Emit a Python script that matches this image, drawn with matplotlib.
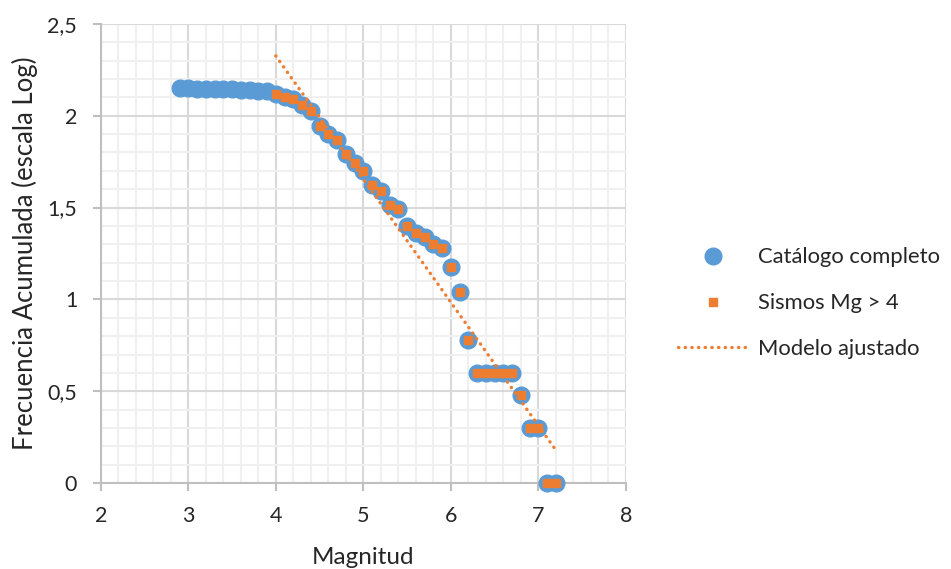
import matplotlib
matplotlib.use("Agg")
import matplotlib.pyplot as plt
from matplotlib.lines import Line2D
from matplotlib.ticker import MultipleLocator, FuncFormatter

plt.rcParams["font.family"] = ["Lato", "DejaVu Sans"]

# cumulative frequency (log10) per magnitude bin
mag = [2.9, 3.0, 3.1, 3.2, 3.3, 3.4, 3.5, 3.6, 3.7, 3.8, 3.9,
       4.0, 4.1, 4.2, 4.3, 4.4, 4.5, 4.6, 4.7, 4.8, 4.9,
       5.0, 5.1, 5.2, 5.3, 5.4, 5.5, 5.6, 5.7, 5.8, 5.9,
       6.0, 6.1, 6.2, 6.3, 6.4, 6.5, 6.6, 6.7, 6.8, 6.9,
       7.0, 7.1, 7.2]
logn = [2.149, 2.149, 2.146, 2.146, 2.146, 2.143, 2.143, 2.140, 2.140, 2.137, 2.134,
        2.117, 2.100, 2.093, 2.061, 2.025, 1.944, 1.903, 1.869, 1.792, 1.740,
        1.699, 1.623, 1.591, 1.515, 1.491, 1.398, 1.362, 1.342, 1.301, 1.279,
        1.176, 1.041, 0.778, 0.602, 0.602, 0.602, 0.602, 0.602, 0.477, 0.301,
        0.301, 0.0, 0.0]
mg_min = 4.0  # subset "Sismos Mg > 4"
sub_x = [m for m in mag if m >= mg_min - 1e-9]
sub_y = [y for m, y in zip(mag, logn) if m >= mg_min - 1e-9]

# fitted model line endpoints
fit_x = [4.0, 7.2]
fit_y = [2.326, 0.18]

BLUE, ORANGE = "#5b9bd5", "#ed7d31"
TXT = "#262626"
DOTS = (0, (0.1, 1.9))

fig = plt.figure(figsize=(9.51, 5.69), dpi=100)
ax = fig.add_axes([0.106, 0.151, 0.552, 0.807])
ax.set_xlim(2, 8)
ax.set_ylim(0, 2.5)
ax.xaxis.set_major_locator(MultipleLocator(1))
ax.xaxis.set_minor_locator(MultipleLocator(0.2))
ax.yaxis.set_major_locator(MultipleLocator(0.5))
ax.yaxis.set_minor_locator(MultipleLocator(0.1))
ax.grid(which="minor", color="#f0f0f0", lw=1.5, zorder=0)
ax.grid(which="major", color="#d9d9d9", lw=1.5, zorder=0)
ax.set_axisbelow(True)
for s in ["top", "right"]:
    ax.spines[s].set_visible(False)
for s in ["left", "bottom"]:
    ax.spines[s].set_color("#bfbfbf")
    ax.spines[s].set_linewidth(1.5)
ax.tick_params(which="major", length=5.5, width=1.5, color="#bfbfbf",
               labelsize=15.5, labelcolor=TXT)
ax.tick_params(axis="x", pad=11)
ax.tick_params(axis="y", pad=11.5)
ax.tick_params(which="minor", length=0)
ax.yaxis.set_major_formatter(FuncFormatter(lambda v, p: f"{v:g}".replace(".", ",")))

ax.plot(mag, logn, "o", color=BLUE, ms=12, zorder=3, clip_on=False)
ax.plot(sub_x, sub_y, "s", color=ORANGE, ms=6, zorder=4, clip_on=False)
ax.plot(fit_x, fit_y, color=ORANGE, lw=2.4, ls=DOTS, dash_capstyle="round", zorder=5)

ax.set_xlabel("Magnitud", fontsize=17.5, color=TXT, labelpad=15)
ax.set_ylabel("Frecuencia Acumulada (escala Log)", fontsize=18.5, color=TXT, labelpad=7)

handles = [Line2D([0], [0], marker="o", ls="none", color=BLUE, ms=12, label="Catálogo completo"),
           Line2D([0], [0], marker="s", ls="none", color=ORANGE, ms=6, label="Sismos Mg > 4"),
           Line2D([0], [0], color=ORANGE, lw=2.4, ls=DOTS, dash_capstyle="round",
                  label="Modelo ajustado")]
leg = fig.legend(handles=handles, loc="center left", bbox_to_anchor=(0.704, 0.467),
                 frameon=False, fontsize=15.8, handlelength=3.2, handletextpad=0.42,
                 labelspacing=1.18, labelcolor=TXT, borderaxespad=0)

fig.savefig("out.png", dpi=100)
